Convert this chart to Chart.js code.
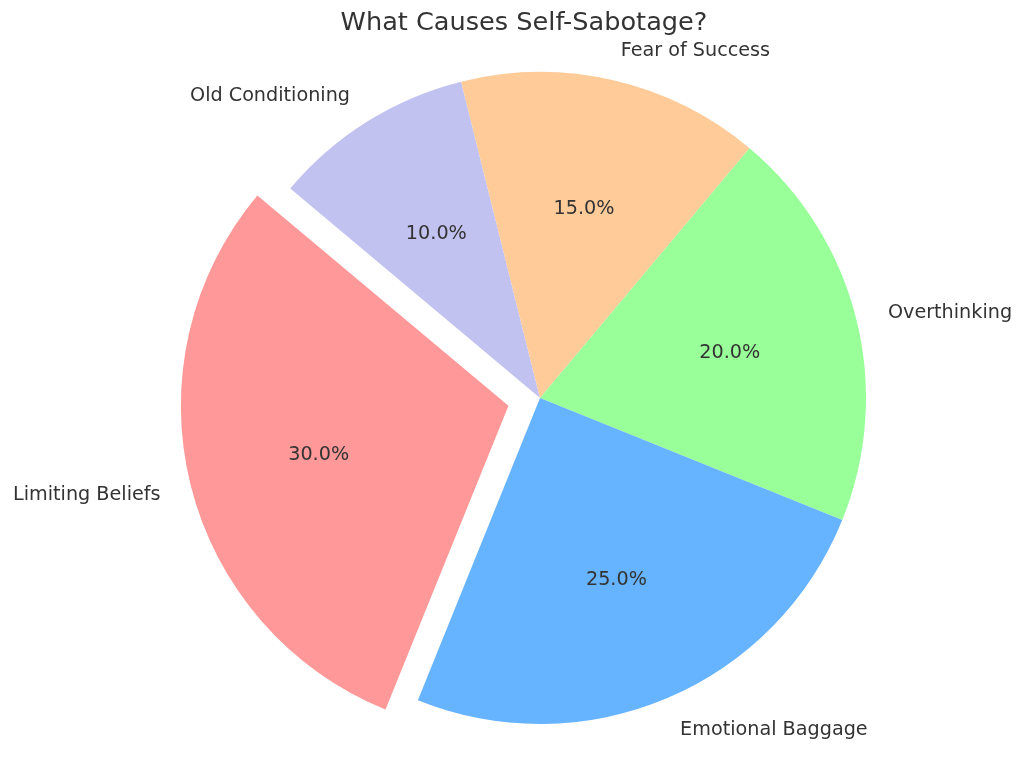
<!DOCTYPE html>
<html>
<head>
<meta charset="utf-8">
<script src="https://cdn.jsdelivr.net/npm/chart.js@4/dist/chart.umd.min.js"></script>
<style>
  body { margin: 0; background: #fff; }
  #wrap { width: 1024px; height: 769px; position: relative; }
</style>
</head>
<body>
<div id="wrap"><canvas id="pie"></canvas></div>
<script>
// slices listed clockwise, starting from the upper-left edge
const causes = ["Old Conditioning", "Fear of Success", "Overthinking", "Emotional Baggage", "Limiting Beliefs"];
const shares = [10, 15, 20, 25, 30];
const sliceColors = ["#c2c2f0", "#ffcc99", "#99ff99", "#66b3ff", "#ff9999"];
// only Limiting Beliefs is pulled out (offset/4 = px shift in chart.js)
const pullOut = [0, 0, 0, 0, 130];

const textColor = "#333333";
const fontFamily = "'DejaVu Sans', sans-serif";

//draw slice names, percentages and the title
const pieLabels = {
  id: "pieLabels",
  afterDatasetsDraw(chart) {
    const ctx = chart.ctx;
    const meta = chart.getDatasetMeta(0);
    const total = shares.reduce((a, b) => a + b, 0);
    ctx.save();
    ctx.fillStyle = textColor;
    ctx.font = "19.2px " + fontFamily;
    ctx.textBaseline = "middle";
    meta.data.forEach((arc, i) => {
      const mid = (arc.startAngle + arc.endAngle) / 2;
      const shift = (arc.options.offset || 0) / 4;
      const cx = arc.x + Math.cos(mid) * shift;
      const cy = arc.y + Math.sin(mid) * shift + 2;
      const r = arc.outerRadius;
      //name outside the pie
      const lx = cx + Math.cos(mid) * r * 1.1;
      const ly = cy + Math.sin(mid) * r * 1.1;
      ctx.textAlign = Math.cos(mid) > 0 ? "left" : "right";
      ctx.fillText(causes[i], lx, ly);
      //percentage inside
      const px = cx + Math.cos(mid) * r * 0.6;
      const py = cy + Math.sin(mid) * r * 0.6;
      ctx.textAlign = "center";
      ctx.fillText((shares[i] / total * 100).toFixed(1) + "%", px, py);
    });
    ctx.font = "25.6px " + fontFamily;
    ctx.textAlign = "center";
    ctx.textBaseline = "alphabetic";
    ctx.fillText("What Causes Self-Sabotage?", 524, 30);
    ctx.restore();
  },
};

new Chart(document.getElementById("pie"), {
  type: "pie",
  plugins: [pieLabels],
  data: {
    labels: causes,
    datasets: [
      {
        data: shares,
        backgroundColor: sliceColors,
        borderWidth: 0,
        offset: pullOut,
        hoverOffset: 0,
      },
    ],
  },
  options: {
    responsive: true,
    maintainAspectRatio: false,
    animation: false,
    events: [],
    rotation: -50,
    radius: 326,
    layout: { padding: { left: 56, right: 0, top: 27, bottom: 0 } },
    plugins: {
      legend: { display: false },
      tooltip: { enabled: false },
      title: { display: false },
    },
  },
});
</script>
</body>
</html>
